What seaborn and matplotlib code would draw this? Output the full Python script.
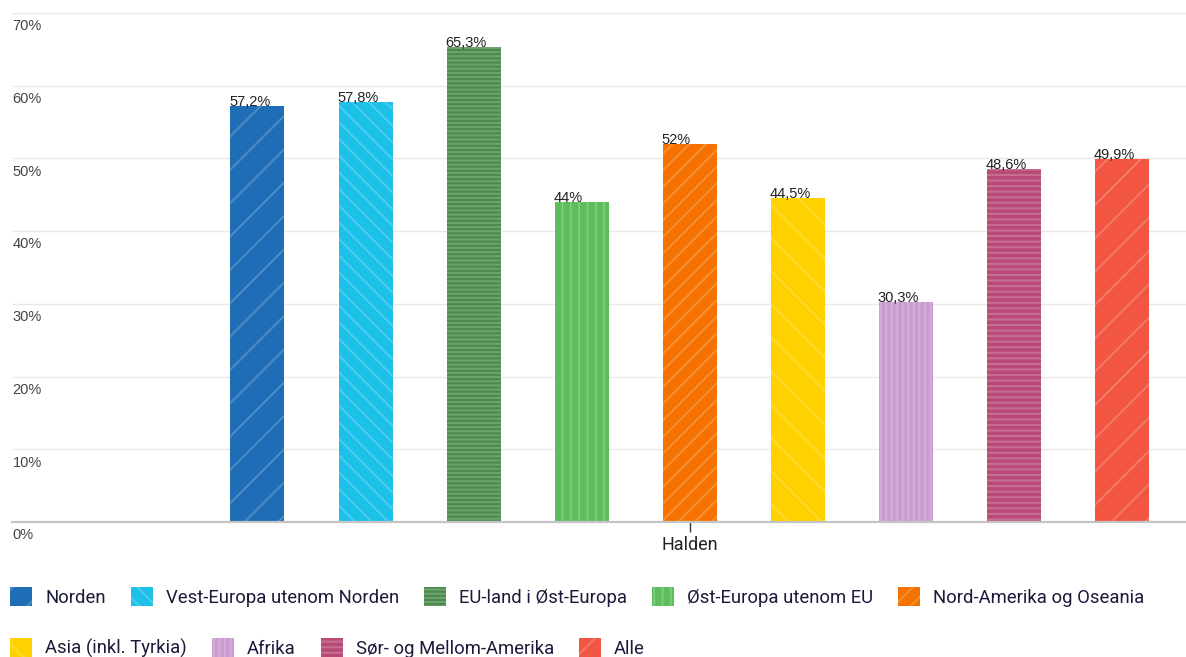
import pandas as pd
import seaborn as sns
import matplotlib.pyplot as plt
from matplotlib.patches import Patch

# data
sted = "Halden"
regioner = ["Norden", "Vest-Europa utenom Norden", "EU-land i Øst-Europa",
            "Øst-Europa utenom EU", "Nord-Amerika og Oseania", "Asia (inkl. Tyrkia)",
            "Afrika", "Sør- og Mellom-Amerika", "Alle"]
andel = [57.2, 57.8, 65.3, 44, 52, 44.5, 30.3, 48.6, 49.9]
farger = ["#1f6db6", "#1dc0e8", "#4b8a4b", "#5cbd5c", "#f57200",
          "#ffd100", "#c99bd0", "#b94a78", "#f25643"]
hatches = ["/", "\\\\", "----", "||", "//", "\\", "|||", "---", "/"]
yticks = [0, 10, 20, 30, 40, 50, 60, 70]

sns.set_theme(style="white")
plt.rcParams['font.family'] = ['Roboto', 'DejaVu Sans']
plt.rcParams['hatch.linewidth'] = 1.5

df = pd.DataFrame({"sted": [sted] * len(regioner), "region": regioner, "andel": andel})

fig = plt.figure(figsize=(11.86, 6.57), dpi=100)
ax = fig.add_axes([12 / 1186, 135 / 657, 1174 / 1186, 509 / 657])

sns.barplot(data=df, x="sted", y="andel", hue="region", hue_order=regioner,
            palette=farger, width=0.8, gap=0.5, saturation=1, ax=ax, legend=False)

for bar, h in zip(ax.patches, hatches):
    bar.set_hatch(h)
    bar.set_edgecolor((1, 1, 1, 0.2))
    bar.set_linewidth(0)

# verdier over søylene
for bar, v in zip(ax.patches, andel):
    txt = ("%g" % v).replace(".", ",") + "%"
    ax.text(bar.get_x() - 0.001, bar.get_height(), txt, ha="left", va="baseline",
            fontsize=10.5, color="#222222", family=["Liberation Sans", "DejaVu Sans"])

ax.set_ylim(0, 70)
ax.set_xlim(-0.5576, 0.4086)
ax.set_yticks(yticks)
ax.set_yticklabels([])
ax.tick_params(axis="y", length=0)
ax.grid(axis="y", color="#ece8e6", lw=1)
ax.set_axisbelow(True)
for s in ["top", "right", "left"]:
    ax.spines[s].set_visible(False)
ax.spines["bottom"].set_color("#c4c4c4")
ax.spines["bottom"].set_linewidth(1.6)

for t in yticks:
    ax.annotate(f"{t}%", xy=(0, t), xycoords=("axes fraction", "data"),
                xytext=(0.5, -4.5), textcoords="offset points", ha="left", va="top",
                fontsize=10.5, color="#444444", family=["Liberation Sans", "DejaVu Sans"])

ax.set_xlabel("")
ax.set_ylabel("")
ax.tick_params(axis="x", bottom=True, length=7, width=1, color="#333333",
               labelsize=13, labelcolor="#222222", pad=3)

# legende i to rader
handles = [Patch(facecolor=c, hatch=h, edgecolor=(1, 1, 1, 0.2), linewidth=0, label=r)
           for c, h, r in zip(farger, hatches, regioner)]
kw = dict(frameon=False, fontsize=13.3, handlelength=1.2, handleheight=1.2,
          handletextpad=0.7, columnspacing=1.35, borderpad=0, borderaxespad=0,
          labelcolor="#1a1a3a", loc="center left")
leg1 = fig.legend(handles=handles[:5], ncol=5, bbox_to_anchor=(10 / 1186, 60 / 657), **kw)
leg2 = fig.legend(handles=handles[5:], ncol=4, bbox_to_anchor=(10 / 1186, 9 / 657), **kw)

fig.savefig("out.png", dpi=100)
